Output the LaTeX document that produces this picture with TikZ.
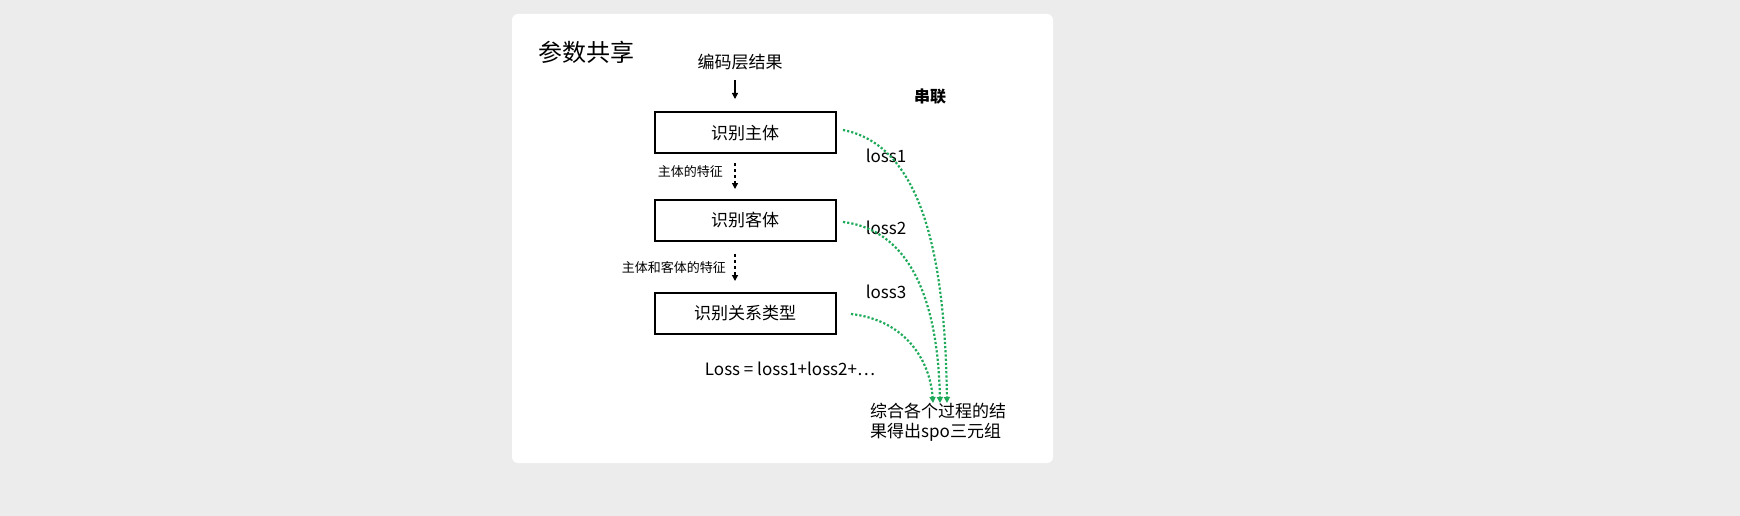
\documentclass[tikz,border=0pt]{standalone}
\usepackage{fontspec}
\setmainfont{Noto Sans CJK SC}
\usetikzlibrary{arrows.meta}
\begin{document}
\begin{tikzpicture}[x=1pt,y=-1pt,
 box/.style={draw,line width=2pt,minimum width=181pt,minimum height=41pt,font=\fontsize{17}{20}\selectfont,inner sep=0},
 txt/.style={font=\fontsize{17}{20}\selectfont,inner sep=0},
 small/.style={font=\fontsize{13}{16}\selectfont,inner sep=0},
 gl/.style={draw={rgb,255:red,30;green,170;blue,90},line width=2.2pt,dotted,-{Triangle[length=6pt,width=6pt]}},
 bl/.style={line width=1.3pt,-{Triangle[length=6pt,width=6pt]}}]
\useasboundingbox (0,0) rectangle (1740,516);
\fill[gray!15] (0,0) rectangle (1740,516);
\fill[white,rounded corners=6pt] (512,14) rectangle (1053,463);
\node[font=\fontsize{24}{28}\selectfont,inner sep=0] (t) at (586,52) {参数共享};
\node[txt] (in) at (740,62) {编码层结果};
\node[txt,font=\bfseries\fontsize{16}{20}\selectfont] (s) at (930,97) {串联};
\node[box] (a) at (745,133) {识别主体};
\node[box] (b) at (745,220) {识别客体};
\node[box] (c) at (745,313) {识别关系类型};
\coordinate (a1) at (735,80); \coordinate (a2) at (735,99);
\draw[bl] (a1) -- (a2);
\coordinate (b1) at (735,163); \coordinate (b2) at (735,189);
\draw[bl,dashed] (b1) -- (b2);
\coordinate (c1) at (735,254); \coordinate (c2) at (735,281);
\draw[bl,dashed] (c1) -- (c2);
\node[small,anchor=east] (l1) at (723,172) {主体的特征};
\node[small,anchor=east] (l2) at (726,268) {主体和客体的特征};
\node[txt] (o1) at (886,156) {loss1};
\node[txt] (o2) at (886,228) {loss2};
\node[txt] (o3) at (886,292) {loss3};
\node[txt] (f) at (790,369) {Loss = loss1+loss2+⋯};
\node[txt,anchor=north west,align=left] (r) at (870,403) {综合各个过程的结\\果得出spo三元组};
\coordinate (e1) at (947,403); \coordinate (e2) at (940,403); \coordinate (e3) at (933,403);
\coordinate (s1) at (843,130); \coordinate (s2) at (843,222); \coordinate (s3) at (851,314);
\draw[gl] (s1) .. controls (920,145) and (945,250) .. (e1);
\draw[gl] (s2) .. controls (910,230) and (938,300) .. (e2);
\draw[gl] (s3) .. controls (905,320) and (930,360) .. (e3);
\end{tikzpicture}
\end{document}
